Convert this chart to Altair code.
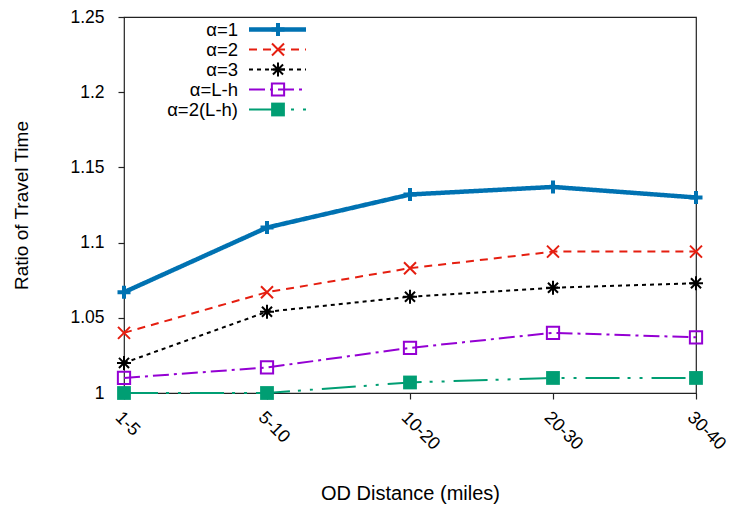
import altair as alt
import pandas as pd

categories = ["1-5", "5-10", "10-20", "20-30", "30-40"]
series_names = ["α=1", "α=2", "α=3", "α=L-h", "α=2(L-h)"]
values_a1 = [1.067, 1.110, 1.132, 1.137, 1.130]
values_a2 = [1.040, 1.067, 1.083, 1.094, 1.094]
values_a3 = [1.020, 1.054, 1.064, 1.070, 1.073]
values_alh = [1.010, 1.017, 1.030, 1.040, 1.037]
values_a2lh = [1.000, 1.000, 1.007, 1.010, 1.010]
all_values = [values_a1, values_a2, values_a3, values_alh, values_a2lh]
y_ticks = [1.0, 1.05, 1.1, 1.15, 1.2, 1.25]

colors = ["#0072b2", "#e51e10", "#000000", "#9400d3", "#009e73"]
dashes = [[1, 0], [8, 6], [4, 4], [16, 5, 3, 5], [34, 8, 3, 9, 3, 9]]
line_widths = [4.5, 2, 2, 2, 2]
shapes = [
    "M-1,0L1,0M0,-1L0,1",
    "M-1,-1L1,1M-1,1L1,-1",
    "M-1,0L1,0M0,-1L0,1M-0.72,-0.72L0.72,0.72M-0.72,0.72L0.72,-0.72",
    "square",
    "square",
]
filled = [False, False, False, False, True]
sizes = [169, 144, 196, 150, 190]
marker_widths = [4, 2, 2, 2, 0]

FONT = "Liberation Sans"
PLOT_LEFT, PLOT_TOP = 124, 17
W, H = 572, 393 - 17

rows = []
for name, vals in zip(series_names, all_values):
    for c, v in zip(categories, vals):
        rows.append({"series": name, "dist": c, "ratio": v})
df = pd.DataFrame(rows)

x_enc = alt.X(
    "dist:N",
    sort=categories,
    scale=alt.Scale(type="point", padding=0),
    axis=alt.Axis(
        title="OD Distance (miles)",
        labelAngle=45,
        labelAlign="left",
        labelBaseline="top",
        labelPadding=9,
        labelFontSize=18,
        tickSize=6,
        titleFontSize=20,
        titleX=W / 2,
        titleY=493 - (PLOT_TOP + H),
        titleBaseline="middle",
        titleAlign="center",
    ),
)
y_enc = alt.Y(
    "ratio:Q",
    scale=alt.Scale(domain=[1.0, 1.25], nice=False, zero=False),
    axis=alt.Axis(
        title="Ratio of Travel Time",
        values=y_ticks,
        format=".2~f",
        tickSize=6,
        labelPadding=14,
        labelFontSize=17.5,
        titleFontSize=19,
        titleX=21 - PLOT_LEFT,
        titleY=H / 2,
        titleAngle=270,
        titleAlign="center",
        titleBaseline="middle",
    ),
)

base = alt.Chart(df)
layers = []
for i, name in enumerate(series_names):
    sub = base.transform_filter(alt.datum.series == name)
    layers.append(
        sub.mark_line(
            color=colors[i], strokeWidth=line_widths[i], strokeDash=dashes[i]
        ).encode(x=x_enc, y=y_enc)
    )
    pkw = dict(shape=shapes[i], filled=filled[i], size=sizes[i], opacity=1)
    if filled[i]:
        pkw.update(fill=colors[i], strokeWidth=0)
    else:
        pkw.update(stroke=colors[i], strokeWidth=marker_widths[i], fill="transparent")
    layers.append(sub.mark_point(**pkw).encode(x=x_enc, y=y_enc))

# manual legend (label left, sample right)
LEG_TOP = 29.5
LEG_STEP = 20
leg_df = pd.DataFrame({"series": series_names})
for i, name in enumerate(series_names):
    ly = LEG_TOP + i * LEG_STEP - PLOT_TOP
    lsub = alt.Chart(leg_df).transform_filter(alt.datum.series == name)
    layers.append(
        lsub.mark_text(
            align="right", baseline="middle", font=FONT, fontSize=18.5, color="black"
        ).encode(x=alt.value(238 - PLOT_LEFT), y=alt.value(ly), text="series:N")
    )
    layers.append(
        lsub.mark_rule(
            color=colors[i], strokeWidth=line_widths[i], strokeDash=dashes[i]
        ).encode(
            x=alt.value(249 - PLOT_LEFT), x2=alt.value(306 - PLOT_LEFT), y=alt.value(ly)
        )
    )
    pkw = dict(shape=shapes[i], filled=filled[i], size=sizes[i], opacity=1)
    if filled[i]:
        pkw.update(fill=colors[i], strokeWidth=0)
    else:
        pkw.update(stroke=colors[i], strokeWidth=marker_widths[i], fill="transparent")
    layers.append(
        lsub.mark_point(**pkw).encode(x=alt.value(278 - PLOT_LEFT), y=alt.value(ly))
    )

chart = (
    alt.layer(*layers)
    .properties(
        width=W,
        height=H,
        autosize=alt.AutoSizeParams(type="none"),
        padding={"left": PLOT_LEFT - 8, "top": PLOT_TOP - 8, "right": 33, "bottom": 112},
        background="white",
    )
    .configure_view(stroke="#222222", strokeWidth=1.2)
    .configure_axis(
        grid=False,
        domain=False,
        tickColor="#222222",
        tickWidth=1.2,
        labelFont=FONT,
        labelColor="black",
        titleFont=FONT,
        titleFontWeight="normal",
        titleColor="black",
    )
)

chart.save("out.html", embed_options={"renderer": "svg", "actions": False})
